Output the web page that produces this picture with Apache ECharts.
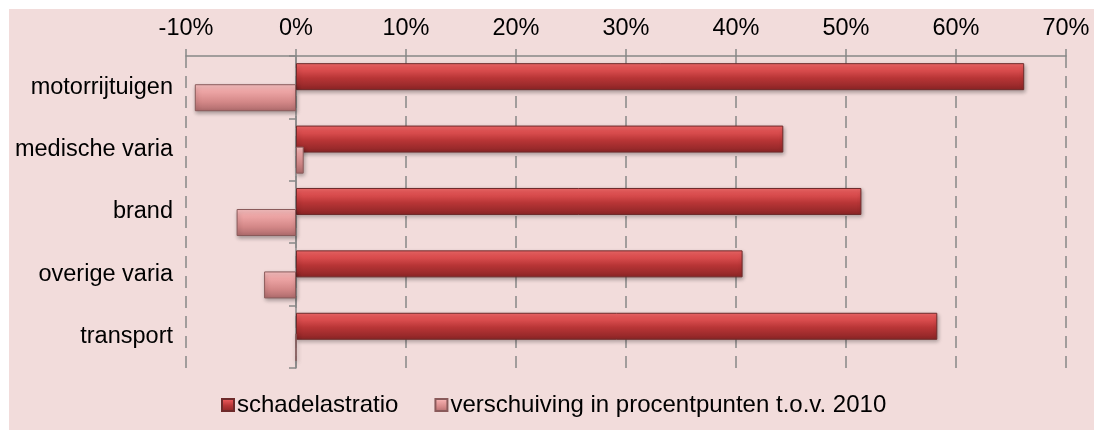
<!DOCTYPE html>
<html><head><meta charset="utf-8">
<script src="https://cdn.jsdelivr.net/npm/echarts@6/dist/echarts.min.js"></script>
<style>html,body{margin:0;padding:0;background:#fff;}#c{position:absolute;left:9px;top:9px;width:1085px;height:421px;background:#f2dcdb;}</style>
</head><body><div id="c"></div>
<script>
const categories = ['motorrijtuigen','medische varia','brand','overige varia','transport'];
const schadelastratio = [0.662, 0.443, 0.514, 0.406, 0.583];
const verschuiving = [-0.092, 0.007, -0.054, -0.029, 0];
const seriesNames = ['schadelastratio','verschuiving in procentpunten t.o.v. 2010'];
const xTicks = {min: -0.1, max: 0.7, interval: 0.1};

const chart = echarts.init(document.getElementById('c'), null, {renderer:'canvas'});
const font = 'Liberation Sans, Arial, sans-serif';
const redGrad = new echarts.graphic.LinearGradient(0,0,0,1,[
  {offset:0,color:'#f46a6a'},{offset:0.2,color:'#e15253'},{offset:0.55,color:'#b83536'},{offset:1,color:'#8a2425'}]);
const pinkGrad = new echarts.graphic.LinearGradient(0,0,0,1,[
  {offset:0,color:'#fbc4c4'},{offset:0.25,color:'#eea6a6'},{offset:0.65,color:'#d48888'},{offset:1,color:'#ad6a6b'}]);
chart.setOption({
  backgroundColor: 'transparent',
  animation: false,
  textStyle: {fontFamily: font},
  grid: {left: 177, right: 28, top: 47, bottom: 62},
  legend: {
    bottom: 8, left: 207, itemWidth: 12, itemHeight: 12, itemGap: 36,
    icon: 'rect',
    textStyle: {fontSize: 24, color: '#000', fontFamily: font, padding:[0,0,0,-2]},
    data: seriesNames
  },
  xAxis: {
    type: 'value', position: 'top', min: xTicks.min, max: xTicks.max, interval: xTicks.interval,
    axisLine: {show: true, lineStyle: {color: '#888', width: 1.5}},
    axisTick: {show: true, length: 7, lineStyle: {color: '#888', width: 1.5}},
    axisLabel: {fontSize: 23.5, color: '#000', margin: 15, fontFamily: font,
      formatter: v => Math.round(v*100) + '%'},
    splitLine: {show: true, lineStyle: {color: '#888', width: 1.5, type: [12, 8]}}
  },
  yAxis: [{
    type: 'category', data: categories, inverse: true, position: 'left',
    axisLine: {show: true, onZero: true, lineStyle: {color: '#888', width: 1.5}},
    axisTick: {show: true, length: 7, lineStyle: {color: '#888', width: 1.5}},
    axisLabel: {show: false}
  },{
    type: 'category', data: categories, inverse: true, position: 'left',
    axisLine: {show: false, onZero: false}, axisTick: {show: false},
    axisLabel: {fontSize: 23.5, color: '#000', margin: 13, fontFamily: font}
  }],
  series: [{
    name: seriesNames[0], type: 'bar', data: schadelastratio, yAxisIndex: 0,
    barWidth: 27, barGap: '-22%',
    itemStyle: {color: redGrad, borderColor: '#6e2a2a', borderWidth: 1,
      shadowBlur: 4, shadowColor: 'rgba(0,0,0,0.3)', shadowOffsetY: 2, shadowOffsetX: 1}
  },{
    name: seriesNames[1], type: 'bar', data: verschuiving, yAxisIndex: 0,
    barWidth: 27,
    itemStyle: {color: pinkGrad, borderColor: '#8a5a5a', borderWidth: 1,
      shadowBlur: 4, shadowColor: 'rgba(0,0,0,0.3)', shadowOffsetY: 2, shadowOffsetX: 1}
  }]
});
</script></body></html>
